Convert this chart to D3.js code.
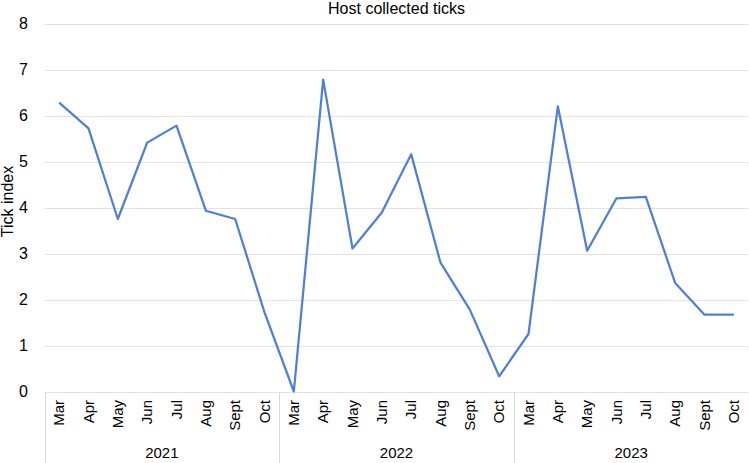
<!DOCTYPE html>
<html>
<head>
<meta charset="utf-8">
<script src="https://cdn.jsdelivr.net/npm/d3@7"></script>
<style>
  body { margin: 0; background: #fff; }
  text { font-family: "Liberation Sans", Arial, sans-serif; fill: #000; }
</style>
</head>
<body>
<div id="chart"></div>
<script>
const months = ["Mar", "Apr", "May", "Jun", "Jul", "Aug", "Sept", "Oct"];
const years = ["2021", "2022", "2023"];
const ticks2021 = [6.28, 5.72, 3.75, 5.41, 5.78, 3.93, 3.75, 1.72];
const ticks2022 = [0, 6.78, 3.11, 3.89, 5.16, 2.80, 1.78, 0.33];
const ticks2023 = [1.25, 6.20, 3.06, 4.20, 4.23, 2.36, 1.67, 1.67];
const yTicks = [0, 1, 2, 3, 4, 5, 6, 7, 8];

const seriesByYear = [ticks2021, ticks2022, ticks2023];
const data = [];
years.forEach((yr, i) => {
  months.forEach((m, j) => {
    data.push({ key: yr + "-" + m, year: yr, month: m, value: seriesByYear[i][j] });
  });
});

const width = 749;
const height = 463;
const margin = { top: 23.5, right: 0.5, bottom: 71.5, left: 44.5 };

const svg = d3.select("#chart")
  .append("svg")
  .attr("width", width)
  .attr("height", height);

const x = d3.scaleBand()
  .domain(data.map(d => d.key))
  .range([margin.left, width - margin.right]);

const y = d3.scaleLinear()
  .domain([0, 8])
  .range([height - margin.bottom, margin.top]);

// gridlines
svg.append("g")
  .selectAll("line")
  .data(yTicks)
  .join("line")
  .attr("x1", margin.left)
  .attr("x2", width - margin.right)
  .attr("y1", d => Math.round(y(d)) + 0.5)
  .attr("y2", d => Math.round(y(d)) + 0.5)
  .attr("stroke", "#e3e3e3")
  .attr("stroke-width", 1);

// y tick labels
svg.append("g")
  .selectAll("text")
  .data(yTicks)
  .join("text")
  .attr("x", 28)
  .attr("y", d => y(d))
  .attr("dy", "0.35em")
  .attr("text-anchor", "end")
  .style("font-size", "16px")
  .text(d => d);

// y axis title
svg.append("text")
  .attr("transform", `translate(13,${(y(0) + y(8)) / 2 - 6}) rotate(-90)`)
  .attr("text-anchor", "middle")
  .style("font-size", "16px")
  .text("Tick index");

// title
svg.append("text")
  .attr("x", (margin.left + width - margin.right) / 2)
  .attr("y", 14)
  .attr("text-anchor", "middle")
  .style("font-size", "16px")
  .text("Host collected ticks");

// category axis box
const axisY = Math.round(y(0)) + 0.5;
const groupEdges = years.map(yr => x(yr + "-" + months[0])).concat([width - margin.right]);
svg.append("g")
  .selectAll("line")
  .data(groupEdges)
  .join("line")
  .attr("x1", d => Math.round(d) + 0.5)
  .attr("x2", d => Math.round(d) + 0.5)
  .attr("y1", axisY)
  .attr("y2", height)
  .attr("stroke", "#d9d9d9")
  .attr("stroke-width", 1);

// month labels
svg.append("g")
  .selectAll("text")
  .data(data)
  .join("text")
  .attr("transform", d => `translate(${x(d.key) + x.bandwidth() / 2},400) rotate(-90)`)
  .attr("dy", "0.35em")
  .attr("text-anchor", "end")
  .style("font-size", "15px")
  .text(d => d.month);

// year labels
svg.append("g")
  .selectAll("text")
  .data(years)
  .join("text")
  .attr("x", (d, i) => (groupEdges[i] + groupEdges[i + 1]) / 2)
  .attr("y", 458)
  .attr("text-anchor", "middle")
  .style("font-size", "15px")
  .text(d => d);

// line
const line = d3.line()
  .x(d => x(d.key) + x.bandwidth() / 2)
  .y(d => y(d.value));

svg.append("path")
  .datum(data)
  .attr("fill", "none")
  .attr("stroke", "#4f80d3")
  .attr("stroke-width", 2.25)
  .attr("stroke-linejoin", "round")
  .attr("d", line);
</script>
</body>
</html>
